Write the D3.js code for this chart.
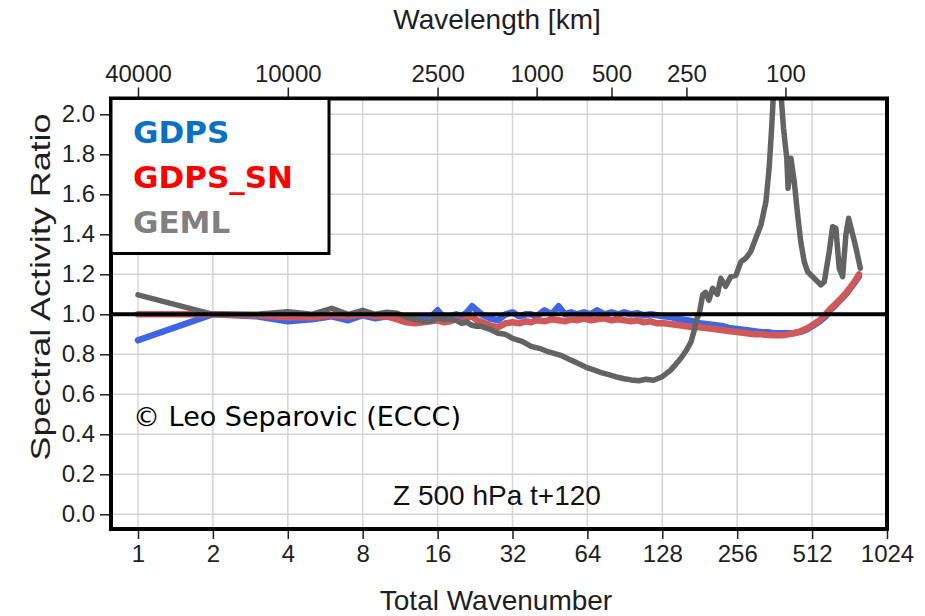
<!DOCTYPE html>
<html>
<head>
<meta charset="utf-8">
<script src="https://cdn.jsdelivr.net/npm/d3@7"></script>
<style>
  body { margin: 0; background: #fff; }
  svg { display: block; }
  .axis text { font-family: "Liberation Sans", Arial, sans-serif; font-size: 24px; fill: #1e1e1e; }
  .axis line { stroke: #1e1e1e; stroke-width: 1.5; }
  .axis path { display: none; }
</style>
</head>
<body>
<div id="chart"></div>
<script>
// wavenumbers sampled for the two GDPS runs
var wnGdps = [1,2,3,4,5,6,7,8,9,10,11,12,13,14,15,16,17,18,19,20,21,22,23,24,
  26,28,30,32,34,36,38,40,43,46,49,52,55,58,62,66,70,75,80,85,90,96,
  102,108,115,122,130,140,150,160,170,180,195,210,225,240,260,280,300,
  320,340,360,380,400,430,460,490,520,550,580,610,640,670,700,730,760,790];

var gdps = [0.87,1.0,0.99,0.965,0.975,0.99,0.97,0.995,0.98,0.99,0.985,0.97,0.975,0.98,0.985,1.02,0.98,0.99,1.0,0.99,1.01,1.04,1.02,1.0,
  0.98,0.97,1.0,1.01,0.99,1.0,1.0,0.99,1.02,1.0,1.04,1.0,1.01,1.0,1.01,1.0,1.02,1.0,1.01,1.0,1.01,1.0,
  1.005,0.995,1.0,0.995,0.99,0.985,0.975,0.97,0.965,0.955,0.95,0.945,0.94,0.93,0.925,0.92,0.915,
  0.91,0.91,0.905,0.905,0.905,0.905,0.912,0.925,0.945,0.965,0.99,1.025,1.05,1.075,1.1,1.13,1.16,1.19];

var gdpsSn = [1.0,1.0,0.995,0.985,0.985,0.995,0.99,1.0,0.99,0.99,0.975,0.96,0.955,0.96,0.965,0.97,0.96,0.965,0.975,0.96,0.98,0.99,0.97,0.963,
  0.945,0.935,0.955,0.96,0.955,0.965,0.96,0.97,0.965,0.975,0.97,0.965,0.975,0.97,0.98,0.97,0.975,0.98,0.97,0.975,0.97,0.965,
  0.97,0.96,0.965,0.955,0.955,0.95,0.945,0.94,0.935,0.935,0.93,0.925,0.92,0.915,0.91,0.905,0.9,
  0.9,0.897,0.895,0.895,0.897,0.905,0.915,0.93,0.95,0.97,1.0,1.03,1.055,1.08,1.105,1.135,1.165,1.2];

var wnGeml = [1,2,3,4,5,6,7,8,9,10,11,12,13,14,15,16,17,18,19,20,21,22,23,24,
  26,28,30,32,35,38,41,44,47,50,54,58,64,68,72,78,83,90,96,103,110,118,128,
  138,145,152,160,167,172,175,180,186,191,197,204,213,220,230,241,253,
  265,277,290,304,319,334,344,352,358,366,372,378,384,393,405,410,421,434,
  448,461,476,491,522,556,573,600,619,638,658,679,700,718,734,752,769,800];

var geml = [1.097,1.0,1.0,1.013,1.0,1.03,1.0,1.02,1.0,1.01,1.005,0.985,0.975,0.965,0.965,0.98,0.975,0.975,0.97,0.955,0.96,0.945,0.94,0.94,
  0.925,0.905,0.9,0.88,0.865,0.84,0.83,0.815,0.805,0.795,0.775,0.758,0.732,0.722,0.71,0.698,0.688,0.678,0.672,0.668,0.675,0.67,0.688,
  0.72,0.75,0.78,0.82,0.863,0.92,0.97,1.0,1.097,1.11,1.07,1.13,1.1,1.18,1.14,1.188,1.195,
  1.263,1.28,1.313,1.38,1.447,1.563,1.73,1.93,2.1,2.3,2.4,2.3,2.1,1.93,1.78,1.63,1.78,1.663,
  1.497,1.363,1.263,1.213,1.18,1.147,1.163,1.313,1.438,1.43,1.23,1.188,1.397,1.48,1.43,1.38,1.33,1.23];

var xTicks = [1,2,4,8,16,32,64,128,256,512,1024];
var topTicks = [40000,10000,2500,1000,500,250,100];
var yTicks = [0,0.2,0.4,0.6,0.8,1.0,1.2,1.4,1.6,1.8,2.0];

var legendNames = ["GDPS","GDPS_SN","GEML"];
var legendColors = ["#0a70c4","#ff0000","#808080"];

document.addEventListener("DOMContentLoaded", function() {
  var width = 925, height = 616,
      left = 111, right = 887, top = 98.5, bottom = 529;

  var svg = d3.select('#chart').append('svg')
    .attr('width', width)
    .attr('height', height);

  var x = d3.scaleLog().base(2).domain([1, 1024]).range([138, 887]);
  var xTop = d3.scaleLog().domain([40000, 40000 / 1024]).range([138, 887]);
  var y = d3.scaleLinear().domain([0, 2]).range([514.3, 114.3]);

  svg.append('clipPath').attr('id', 'plot-clip')
    .append('rect')
    .attr('x', left).attr('y', top)
    .attr('width', right - left).attr('height', bottom - top);

  // grid
  var grid = svg.append('g').attr('stroke', '#d4d4d4').attr('stroke-width', 1.5);
  grid.selectAll('line.v').data(xTicks.slice(0, -1)).enter().append('line')
    .attr('x1', function(d) { return x(d); }).attr('x2', function(d) { return x(d); })
    .attr('y1', top).attr('y2', bottom);
  grid.selectAll('line.h').data(yTicks).enter().append('line')
    .attr('y1', function(d) { return y(d); }).attr('y2', function(d) { return y(d); })
    .attr('x1', left).attr('x2', right);

  // series
  var line = d3.line()
    .x(function(d) { return x(d[0]); })
    .y(function(d) { return y(d[1]); });

  function pairs(xs, ys) {
    return d3.range(Math.min(xs.length, ys.length)).map(function(i) { return [xs[i], ys[i]]; });
  }

  var series = [
    { data: pairs(wnGdps, gdps), color: '#3c66e6', w: 6.5 },
    { data: pairs(wnGdps, gdpsSn), color: '#d15858', w: 6.5 },
    { data: pairs(wnGeml, geml), color: '#636363', w: 5.5 }
  ];

  svg.append('g').attr('clip-path', 'url(#plot-clip)')
    .selectAll('path').data(series).enter().append('path')
    .attr('d', function(d) { return line(d.data); })
    .attr('fill', 'none')
    .attr('stroke', function(d) { return d.color; })
    .attr('stroke-width', function(d) { return d.w; })
    .attr('stroke-linejoin', 'round')
    .attr('stroke-linecap', 'round');

  // reference line at 1
  svg.append('line')
    .attr('x1', left).attr('x2', right)
    .attr('y1', y(1)).attr('y2', y(1))
    .attr('stroke', '#000').attr('stroke-width', 4);

  // axes
  svg.append('g').attr('class', 'axis')
    .attr('transform', 'translate(0,' + bottom + ')')
    .call(d3.axisBottom(x).tickValues(xTicks).tickFormat(d3.format('d')).tickSize(10).tickPadding(6));

  svg.append('g').attr('class', 'axis')
    .attr('transform', 'translate(0,' + top + ')')
    .call(d3.axisTop(xTop).tickValues(topTicks).tickFormat(d3.format('d')).tickSize(11).tickPadding(6));

  svg.append('g').attr('class', 'axis')
    .attr('transform', 'translate(' + left + ',0)')
    .call(d3.axisLeft(y).tickValues(yTicks).tickFormat(d3.format('.1f')).tickSize(11).tickPadding(5));

  // frame
  svg.append('rect')
    .attr('x', left).attr('y', top)
    .attr('width', right - left).attr('height', bottom - top)
    .attr('fill', 'none').attr('stroke', '#000').attr('stroke-width', 4);

  // legend
  svg.append('rect')
    .attr('x', left).attr('y', top)
    .attr('width', 218).attr('height', 155)
    .attr('fill', '#fff').attr('stroke', '#000').attr('stroke-width', 3);

  svg.append('g').selectAll('text').data(legendNames).enter().append('text')
    .attr('x', 133)
    .attr('y', function(d, i) { return 143 + i * 45; })
    .attr('fill', function(d, i) { return legendColors[i]; })
    .style('font-family', '"DejaVu Sans", sans-serif')
    .style('font-weight', 'bold')
    .style('font-size', '31px')
    .text(function(d) { return d; });

  // labels
  var helv = '"Liberation Sans", Arial, sans-serif';
  svg.append('text')
    .attr('x', 497).attr('y', 29)
    .attr('text-anchor', 'middle')
    .style('font-family', helv).style('font-size', '28px').attr('fill', '#1e1e1e')
    .text('Wavelength [km]');

  svg.append('text')
    .attr('x', 496).attr('y', 610)
    .attr('text-anchor', 'middle')
    .style('font-family', helv).style('font-size', '28px').attr('fill', '#1e1e1e')
    .text('Total Wavenumber');

  svg.append('text')
    .attr('transform', 'translate(50,287) rotate(-90)')
    .attr('text-anchor', 'middle')
    .attr('textLength', 347)
    .attr('lengthAdjust', 'spacingAndGlyphs')
    .style('font-family', helv).style('font-size', '28px').attr('fill', '#1e1e1e')
    .text('Spectral Activity Ratio');

  svg.append('text')
    .attr('x', 497).attr('y', 505)
    .attr('text-anchor', 'middle')
    .style('font-family', helv).style('font-size', '28px').attr('fill', '#111')
    .text('Z 500 hPa t+120');

  svg.append('text')
    .attr('x', 133).attr('y', 426)
    .style('font-family', '"DejaVu Sans", sans-serif').style('font-size', '27px').attr('fill', '#000')
    .text('\u00a9 Leo Separovic (ECCC)');
});
</script>
</body>
</html>
